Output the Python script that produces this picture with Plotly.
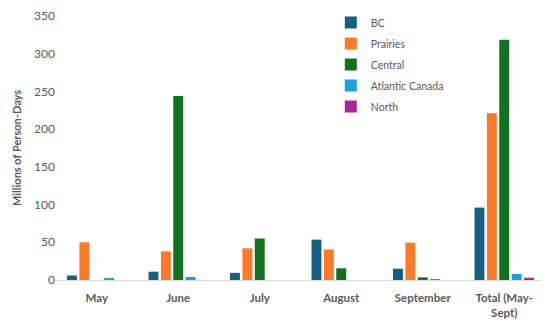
import plotly.graph_objects as go

categories = ["May", "June", "July", "August", "September", "Total (May-<br>Sept)"]
series_names = ["BC", "Prairies", "Central", "Atlantic Canada", "North"]
bc = [6, 11, 9.5, 53.5, 15, 96]
prairies = [50, 38, 42, 40.5, 49.5, 221]
central = [0, 244, 55, 15.5, 3.5, 318.5]
atlantic = [2, 4, 0, 0, 1, 8]
north = [0, 0, 0, 0, 0, 3]
colors = ["#156082", "#FB7A2A", "#12701E", "#1BA1D8", "#A8279A"]
y_ticks = [0, 50, 100, 150, 200, 250, 300, 350]

fig = go.Figure()
for i, (name, vals) in enumerate(zip(series_names, [bc, prairies, central, atlantic, north])):
    fig.add_trace(go.Bar(x=categories, y=vals, name=name, marker_color=colors[i],
                         marker_line_width=0, legendgroup=name))

font_family = "Lato, 'Noto Sans', sans-serif"
fig.update_layout(
    width=550, height=323,
    margin=dict(l=48, r=13, t=8, b=51, autoexpand=False),
    paper_bgcolor="white", plot_bgcolor="white",
    barmode="group", bargap=0.24, bargroupgap=0.2,
    font=dict(family=font_family, color="#595959", size=11),
    legend=dict(x=0.562, y=1.03, xanchor="left", yanchor="top",
                font=dict(size=10.5, color="#595959"), tracegroupgap=2,
                traceorder="grouped", bgcolor="rgba(0,0,0,0)"),
    yaxis=dict(range=[0, 350], tickvals=y_ticks, showgrid=False, zeroline=False,
               showline=False, ticks="", ticklabeloverflow="allow", automargin=False,
               tickfont=dict(size=12, color="#595959"),
               title=dict(text="<b>Millions of Person-Days</b>", font=dict(size=11, color="#595959"), standoff=10)),
    xaxis=dict(showline=True, linecolor="#D9D9D9", linewidth=1, ticks="outside",
               ticklen=7, tickcolor="rgba(0,0,0,0)", ticklabeloverflow="allow", automargin=False,
               tickfont=dict(size=11.5, color="#595959")),
)
fig.update_xaxes(ticktext=["<b>" + c + "</b>" for c in categories], tickvals=categories)
fig.write_html("out.html")
